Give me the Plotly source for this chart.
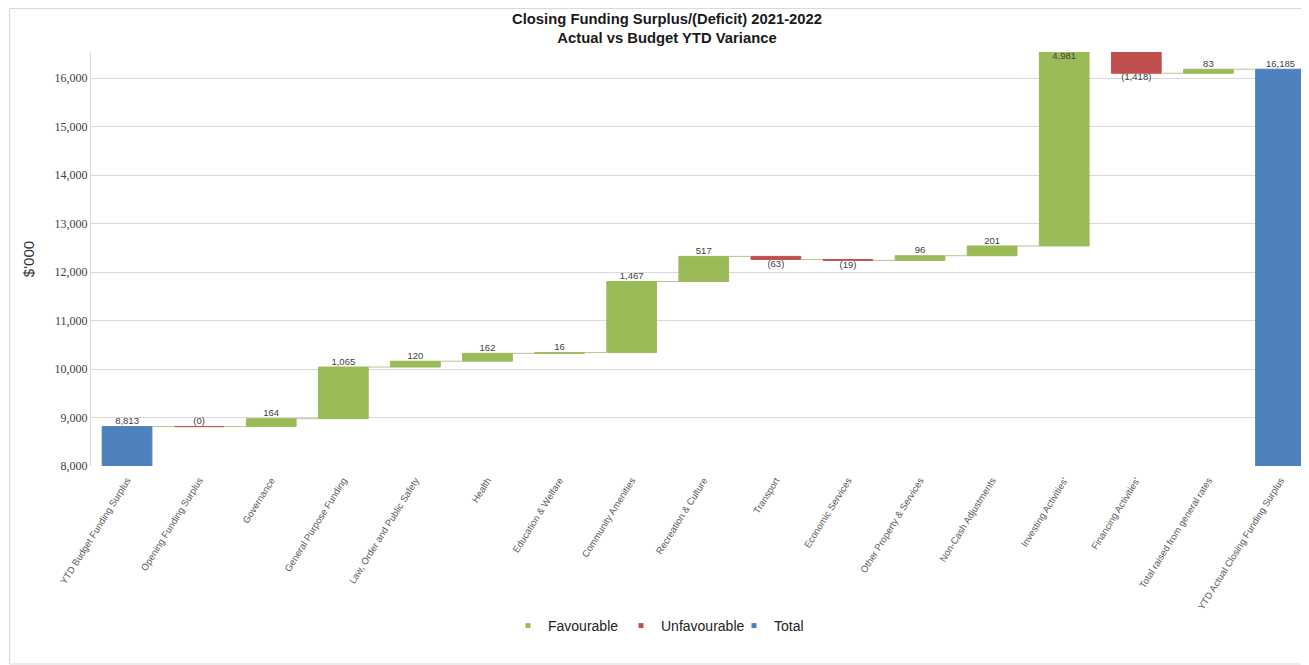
import plotly.graph_objects as go

categories = [
    "YTD Budget Funding Surplus", "Opening Funding Surplus", "Governance",
    "General Purpose Funding", "Law, Order and Public Safety", "Health",
    "Education & Welfare", "Community Amenities", "Recreation & Culture",
    "Transport", "Economic Services", "Other Property & Services",
    "Non-Cash Adjustments", "Investing Activities'", "Financing Activities'",
    "Total raised from general rates", "YTD Actual Closing Funding Surplus",
]
values = [8813, -0.4, 164, 1065, 120, 162, 16, 1467, 517, -63, -19, 96, 201, 4981, -1418, 83, 16185]
kinds = ["total"] + ["delta"] * 15 + ["total"]

YMIN, YMAX = 8000, 16540
BW = 0.69
GREEN, RED, BLUE = "#9bbb59", "#c0504d", "#4f81bd"

# figure geometry (page has an 8px body margin)
W, H = 1301, 657
PL, PR, PT, PB = 83, 1297, 44, 458
PW, PH = PR - PL, PB - PT

bases, ends = [], []
cum = 0
for v, k in zip(values, kinds):
    if k == "total":
        bases.append(YMIN)
        ends.append(v)
        cum = v
    else:
        bases.append(cum)
        cum = cum + v
        ends.append(cum)

def fmt(v):
    r = round(v)
    if v < 0:
        return "({:,})".format(abs(r))
    return "{:,}".format(r)

fig = go.Figure()

def add_group(color, sel):
    xs, ys, bs = [], [], []
    for i, (v, k) in enumerate(zip(values, kinds)):
        if sel(v, k):
            xs.append(i)
            if k == "total":
                bs.append(YMIN)
                ys.append(v - YMIN)
            else:
                bs.append(bases[i])
                ys.append(v)
    fig.add_trace(go.Bar(
        x=xs, y=ys, base=bs, width=BW, showlegend=False,
        marker=dict(color=color, line=dict(color=color, width=1)),
        hoverinfo="skip",
    ))

add_group(GREEN, lambda v, k: k == "delta" and v >= 0)
add_group(RED, lambda v, k: k == "delta" and v < 0)
add_group(BLUE, lambda v, k: k == "total")

# legend entries (small square markers)
for name, color in [("Favourable", GREEN), ("Unfavourable", RED), ("Total", BLUE)]:
    fig.add_trace(go.Scatter(x=[None], y=[None], mode="markers", name=name,
                             marker=dict(symbol="square", size=5, color=color)))

# connectors
cx, cy = [], []
for i in range(len(values) - 1):
    y = ends[i]
    cx += [i + BW / 2, i + 1 - BW / 2, None]
    cy += [y, y, None]
fig.add_trace(go.Scatter(x=cx, y=cy, mode="lines", line=dict(color="#b8c48e", width=1),
                         showlegend=False, hoverinfo="skip"))

# labels
lx, ly, lt, lp = [], [], [], []
for i, (v, k) in enumerate(zip(values, kinds)):
    e = ends[i]
    lx.append(i)
    lt.append(fmt(v))
    if e > YMAX:
        ly.append(YMAX)
        lp.append("bottom center")
    elif k == "delta" and v < 0 and round(v) != 0:
        ly.append(e)
        lp.append("bottom center")
    else:
        ly.append(max(e, bases[i]) if k == "delta" else e)
        lp.append("top center")
fig.add_trace(go.Scatter(x=lx, y=ly, text=lt, mode="text", textposition=lp,
                         textfont=dict(family="Liberation Sans, Arial", size=9.5, color="#404040"),
                         showlegend=False, hoverinfo="skip", cliponaxis=False))

fig.update_layout(
    width=W, height=H,
    margin=dict(l=PL, r=W - PR, t=PT, b=H - PB, autoexpand=False),
    paper_bgcolor="white", plot_bgcolor="white",
    barmode="overlay",
    title=dict(
        text="<b>Closing Funding Surplus/(Deficit) 2021-2022<br>Actual vs Budget YTD Variance</b>",
        x=659 / W, xanchor="center", xref="container", y=1 - 16 / H, yanchor="top", yref="container",
        font=dict(family="Liberation Sans, Arial", size=14.8, color="#1a1a1a"),
    ),
    showlegend=True,
    legend=dict(orientation="h", x=(500 - PL) / PW, xanchor="left", y=-(618 - PB) / PH, yanchor="middle",
                font=dict(family="Liberation Sans, Arial", size=14, color="#222"),
                itemwidth=30, traceorder="normal", entrywidth=68, entrywidthmode="pixels"),
    xaxis=dict(
        tickmode="array", tickvals=list(range(len(categories))), ticktext=categories,
        range=[-0.5, 16.34], tickangle=-58, ticklabelstandoff=6,
        tickfont=dict(family="Liberation Sans, Arial", size=9.5, color="#595959"),
        showgrid=False, showline=False, zeroline=False, ticks="",
    ),
    yaxis=dict(
        range=[YMIN, YMAX], dtick=1000, tick0=8000, tickformat=",",
        showgrid=True, gridcolor="#d9d9d9", gridwidth=1,
        showline=True, linecolor="#d9d9d9", zeroline=False,
        tickfont=dict(family="Liberation Serif, Times New Roman", size=12, color="#404040"),
        title=dict(text="$'000", font=dict(family="Liberation Sans, Arial", size=15, color="#333"), standoff=16),
    ),
    shapes=[dict(type="rect", xref="paper", yref="paper",
                 x0=(1.5 - PL) / PW, x1=(W - 0.5 - PL) / PW,
                 y0=-(H - 1 - PB) / PH, y1=(PB - 0.5) / PH,
                 line=dict(color="#d9d9d9", width=1), fillcolor="rgba(0,0,0,0)", layer="below")],
)

fig.write_html("out.html")
